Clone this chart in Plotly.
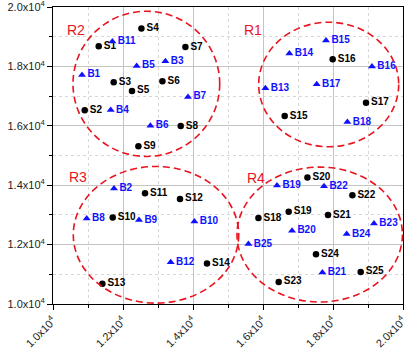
import plotly.graph_objects as go

# ---- data ----
s_labels = ["S1", "S2", "S3", "S4", "S5", "S6", "S7", "S8", "S9", "S10", "S11", "S12", "S13",
            "S14", "S15", "S16", "S17", "S18", "S19", "S20", "S21", "S22", "S23", "S24", "S25"]
s_x = [11306, 10906, 11734, 12526, 12257, 13126, 13783, 13649, 12440, 11706, 12629, 13629, 11411,
       14400, 16620, 17991, 18943, 15869, 16734, 17269, 17857, 18554, 16449, 17514, 18791]
s_y = [18682, 16520, 17466, 19280, 17172, 17500, 18649, 15990, 15314, 12916, 13726, 13537, 10686,
       11361, 16328, 18243, 16780, 12895, 13108, 14257, 12995, 13659, 10743, 11678, 11081]

b_labels = ["B1", "B2", "B3", "B4", "B5", "B6", "B7", "B8", "B9", "B10", "B11", "B12", "B13",
            "B14", "B15", "B16", "B17", "B18", "B19", "B20", "B21", "B22", "B23", "B24", "B25"]
b_x = [10829, 11743, 13211, 11649, 12391, 12783, 13857, 10963, 12457, 14040, 11697, 13363, 16069,
       16754, 17800, 19114, 17534, 18411, 16400, 16829, 17697, 17743, 19171, 18391, 15583]
b_y = [17713, 13885, 18176, 16530, 18017, 16003, 16970, 12882, 12828, 12780, 18840, 11409, 17264,
       18436, 18875, 17997, 17399, 16125, 13986, 12466, 11057, 13963, 12713, 12354, 12016]

# regions: bounding boxes of dashed ellipses
region_names = ["R1", "R2", "R3", "R4"]
region_x0 = [15877, 10571, 10580, 15257]
region_x1 = [19877, 14763, 15306, 19983]
region_y0 = [15295, 14968, 10030, 10067]
region_y1 = [19487, 19858, 14631, 14610]
region_label_x = [15714, 10649, 10714, 15811]
region_label_y = [19233, 19233, 14280, 14247]

tick_vals = [10000, 12000, 14000, 16000, 18000, 20000]
tick_text = ["1.0x10<sup>4</sup>", "1.2x10<sup>4</sup>", "1.4x10<sup>4</sup>",
             "1.6x10<sup>4</sup>", "1.8x10<sup>4</sup>", "2.0x10<sup>4</sup>"]

FONT = "Liberation Sans, Arial, sans-serif"
BOLD = "Liberation Sans Bold, Arial Black, Arial, sans-serif"
BLUE = "#1010ff"
RED = "#e8141e"

fig = go.Figure()

fig.add_trace(go.Scatter(
    x=s_x, y=s_y, text=[f"<b>{t}</b>" for t in s_labels], mode="markers+text",
    textposition="middle right",
    marker=dict(symbol="circle", size=6.5, color="black"),
    textfont=dict(family=FONT, size=10, color="black"),
    showlegend=False, cliponaxis=False))

fig.add_trace(go.Scatter(
    x=b_x, y=b_y, text=[f"<b>{t}</b>" for t in b_labels], mode="markers+text",
    textposition="middle right",
    marker=dict(symbol="triangle-up", size=7, color=BLUE),
    textfont=dict(family=FONT, size=10, color=BLUE),
    showlegend=False, cliponaxis=False))

for i in range(len(region_names)):
    fig.add_shape(type="circle", xref="x", yref="y",
                  x0=region_x0[i], x1=region_x1[i], y0=region_y0[i], y1=region_y1[i],
                  line=dict(color=RED, width=1.6, dash="7px,4px"))
    fig.add_annotation(x=region_label_x[i], y=region_label_y[i], text=region_names[i],
                       showarrow=False, xref="x", yref="y",
                       font=dict(family=FONT, size=14, color=RED))

axis_common = dict(
    range=[10000, 20000], tickvals=tick_vals, ticktext=tick_text,
    showline=True, linecolor="black", linewidth=1, mirror=True,
    ticks="outside", ticklen=5, tickcolor="black", tickwidth=1,
    showgrid=True, gridcolor="#c4c4c4", gridwidth=1, zeroline=False,
    tickfont=dict(family=FONT, size=11, color="#222222"),
    automargin=False, ticklabeloverflow="allow",
    minor=dict(dtick=1000, tick0=10000, ticks="outside", ticklen=3, tickcolor="black",
               showgrid=True, gridcolor="#d8d8d8", griddash="dot"),
)

fig.update_layout(
    width=404, height=354,
    margin=dict(l=53, r=1, t=7, b=50),
    paper_bgcolor="white", plot_bgcolor="white",
    xaxis=dict(**axis_common, tickangle=-45),
    yaxis=dict(**axis_common),
)

fig.write_html("out.html", config={"displayModeBar": False},
               post_script="document.body.style.margin='0px';"
                           "document.documentElement.style.overflow='hidden';")
